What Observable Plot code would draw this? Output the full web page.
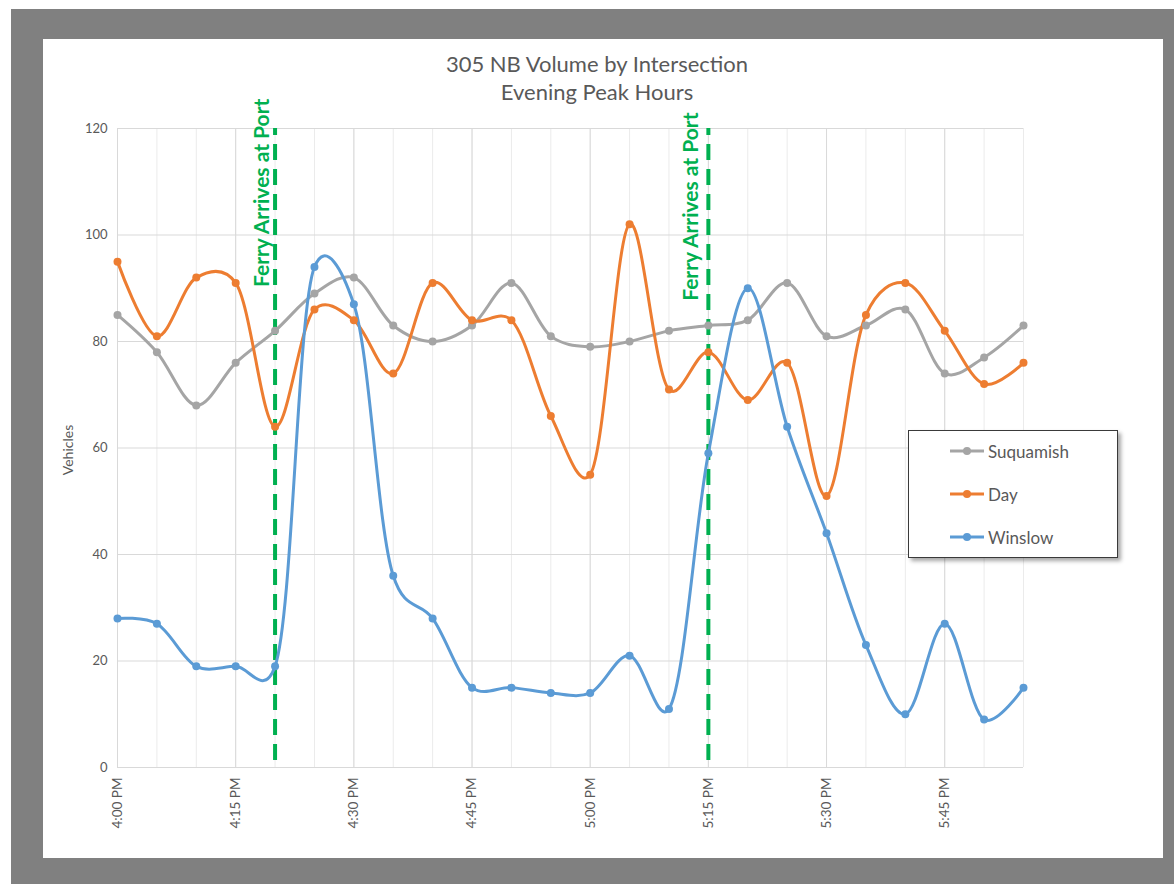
<!DOCTYPE html>
<html>
<head>
<meta charset="utf-8">
<script src="https://cdn.jsdelivr.net/npm/d3@7"></script>
<script src="https://cdn.jsdelivr.net/npm/@observablehq/plot@0.6"></script>
<style>
  html, body { margin: 0; padding: 0; background: #ffffff; }
  body { width: 1174px; height: 884px; position: relative; overflow: hidden; font-family: Lato, "Open Sans", sans-serif; }
  #frame { position: absolute; left: 11px; top: 9px; right: 0; bottom: 0; background: #808080; }
  #panel { position: absolute; left: 43px; top: 39px; width: 1120px; height: 819px; background: #ffffff; }
  #title { position: absolute; left: 0; top: 11px; width: 1108px; text-align: center; color: #595959; font-size: 22px; line-height: 28px; z-index: 2; }
  #chart { position: absolute; left: 0; top: 56px; z-index: 1; }
  #ylabel { position: absolute; left: 24px; top: 411px; width: 0; height: 0; z-index: 2; }
  #ylabel span { position: absolute; transform: translate(-50%, -50%) rotate(-90deg); white-space: nowrap; color: #595959; font-size: 14px; }
  #legend { position: absolute; left: 865px; top: 391px; width: 208px; height: 126px; border: 1.5px solid #3a3a3a; background: #fff; box-shadow: 3px 3px 4px rgba(0,0,0,0.35); z-index: 3; }
  .item { position: absolute; left: 40px; height: 24px; display: flex; align-items: center; color: #595959; font-size: 17px; }
  .item svg { margin-right: 3px; }
</style>
</head>
<body>
<div id="frame"></div>
<div id="panel">
  <div id="title">305 NB Volume by Intersection<br>Evening Peak Hours</div>
  <div id="ylabel"><span>Vehicles</span></div>
  <div id="chart"></div>
  <div id="legend"></div>
</div>
<script>
const times = ["4:00 PM","4:05 PM","4:10 PM","4:15 PM","4:20 PM","4:25 PM","4:30 PM","4:35 PM",
  "4:40 PM","4:45 PM","4:50 PM","4:55 PM","5:00 PM","5:05 PM","5:10 PM","5:15 PM",
  "5:20 PM","5:25 PM","5:30 PM","5:35 PM","5:40 PM","5:45 PM","5:50 PM","5:55 PM"];
const suquamish = [85, 78, 68, 76, 82, 89, 92, 83, 80, 83, 91, 81, 79, 80, 82, 83, 84, 91, 81, 83, 86, 74, 77, 83];
const day       = [95, 81, 92, 91, 64, 86, 84, 74, 91, 84, 84, 66, 55, 102, 71, 78, 69, 76, 51, 85, 91, 82, 72, 76];
const winslow   = [28, 27, 19, 19, 19, 94, 87, 36, 28, 15, 15, 14, 14, 21, 11, 59, 90, 64, 44, 23, 10, 27, 9, 15];
const seriesNames = ["Suquamish", "Day", "Winslow"];
const seriesColors = ["#a5a5a5", "#ed7d31", "#5b9bd5"];
const ferryTimes = ["4:20 PM", "5:15 PM"];
const ferryLabel = "Ferry Arrives at Port";
const yTicks = [0, 20, 40, 60, 80, 100, 120];

const parse = d3.utcParse("%I:%M %p");
const fmt = d3.utcFormat("%-I:%M %p");
const T = times.map(parse);
const seriesValues = [suquamish, day, winslow];
const rows = [];
seriesNames.forEach((name, i) => {
  seriesValues[i].forEach((v, j) => rows.push({series: name, time: T[j], value: v}));
});
const ferry = ferryTimes.map(parse);
const t0 = T[0], t1 = T[T.length - 1];
const minorTicks = d3.utcMinute.every(5).range(t0, d3.utcMinute.offset(t1, 1));
const majorTicks = d3.utcMinute.every(15).range(t0, d3.utcMinute.offset(t1, 1));

const labelStyle = {text: () => ferryLabel, rotate: -90, textAnchor: "end", fontSize: 21, fontWeight: "bold", fill: "#00b050"};

const chart = Plot.plot({
  width: 1120,
  height: 755,
  marginLeft: 74,
  marginRight: 140,
  marginTop: 33,
  marginBottom: 83,
  style: {background: "transparent", fontFamily: "Lato, 'Open Sans', sans-serif", color: "#595959"},
  x: {type: "utc", domain: [t0, t1]},
  y: {domain: [0, 120]},
  color: {domain: seriesNames, range: seriesColors},
  marks: [
    Plot.ruleX(minorTicks, {stroke: "#ebebeb", strokeWidth: 1}),
    Plot.ruleX(majorTicks, {stroke: "#d9d9d9", strokeWidth: 1}),
    Plot.ruleY(yTicks, {stroke: "#d9d9d9", strokeWidth: 1}),
    Plot.axisY({ticks: yTicks, tickSize: 0, tickPadding: 10, label: null, fontSize: 13, fill: "#595959"}),
    Plot.axisX({ticks: majorTicks, tickSize: 0, tickPadding: 10, tickRotate: -90, tickFormat: fmt, label: null, fontSize: 13.5, fill: "#595959"}),
    Plot.ruleX(ferry, {y1: 1.3, y2: 120, stroke: "#00b050", strokeWidth: 4, strokeDasharray: "16,9"}),
    Plot.text([ferry[0]], {x: d => d, y: 125.6, dx: -13, ...labelStyle}),
    Plot.text([ferry[1]], {x: d => d, y: 123, dx: -17, ...labelStyle}),
    Plot.line(rows, {x: "time", y: "value", z: "series", stroke: "series", strokeWidth: 3, curve: "catmull-rom", tension: 0.2}),
    Plot.dot(rows, {x: "time", y: "value", fill: "series", r: 4})
  ]
});
document.getElementById("chart").appendChild(chart);

const legend = document.getElementById("legend");
seriesNames.forEach((name, i) => {
  const div = document.createElement("div");
  div.className = "item";
  div.style.top = (8 + i * 43) + "px";
  div.innerHTML = `<svg width="36" height="12"><line x1="1" x2="35" y1="6" y2="6" stroke="${seriesColors[i]}" stroke-width="3"/><circle cx="18" cy="6" r="4" fill="${seriesColors[i]}"/></svg><span>${name}</span>`;
  legend.appendChild(div);
});
</script>
</body>
</html>
